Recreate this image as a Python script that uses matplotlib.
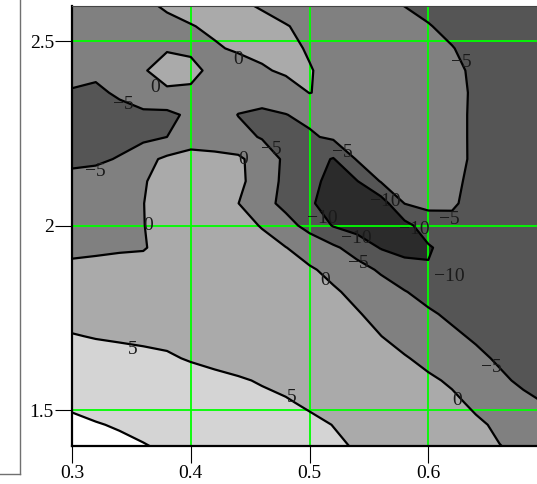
import numpy as np
import matplotlib
matplotlib.use("Agg")
import matplotlib.pyplot as plt
from matplotlib.lines import Line2D

plt.rcParams['font.family'] = ['Liberation Serif', 'DejaVu Serif']
plt.rcParams['contour.negative_linestyle'] = 'solid'

# grid of the surface (x across, y down the rows)
x_vals = [0.30, 0.32, 0.34, 0.36, 0.38, 0.40, 0.42, 0.44, 0.46, 0.48, 0.50,
          0.52, 0.54, 0.56, 0.58, 0.60, 0.62, 0.64, 0.66, 0.68, 0.70]
y_vals = [1.40, 1.46, 1.52, 1.58, 1.64, 1.70, 1.76, 1.82, 1.88, 1.94, 2.00,
          2.06, 2.12, 2.18, 2.24, 2.30, 2.36, 2.42, 2.48, 2.54, 2.60]

z_140 = [12.0, 11.4, 10.8, 10.2, 9.6, 9.0, 8.4, 7.8, 7.2, 6.6, 6.0, 5.45, 4.8, 4.0, 3.2, 2.5, 1.7, 0.9, 0.1, -0.7, -1.5]
z_146 = [11.0, 10.2, 9.7, 9.2, 8.7, 8.3, 7.8, 7.3, 6.7, 6.1, 5.6, 4.95, 4.2, 3.4, 2.7, 2.0, 1.3, 0.6, -0.6, -1.8, -3.0]
z_152 = [9.2, 8.8, 8.4, 7.9, 7.5, 7.1, 6.6, 6.1, 5.6, 5.25, 4.6, 4.0, 3.3, 2.6, 1.9, 1.3, 0.75, -0.7, -2.4, -3.9, -5.2]
z_158 = [7.8, 7.5, 7.1, 6.8, 6.4, 6.0, 5.6, 5.25, 4.8, 4.3, 3.7, 3.1, 2.5, 1.9, 1.2, 0.6, -0.5, -2.3, -4.2, -5.8, -6.5]
z_164 = [6.7, 6.4, 6.0, 5.6, 5.3, 4.8, 4.4, 4.0, 3.5, 2.9, 2.3, 1.7, 1.2, 0.75, 0.3, -1.0, -2.5, -4.0, -5.6, -6.5, -7.2]
z_170 = [5.2, 4.8, 4.6, 4.5, 4.4, 4.3, 4.1, 3.8, 3.3, 2.7, 2.0, 1.3, 0.7, 0.05, -1.4, -2.8, -4.2, -5.6, -6.5, -7.0, -7.5]
z_176 = [3.7, 3.8, 3.9, 3.9, 3.9, 3.9, 3.8, 3.6, 3.2, 2.6, 1.9, 1.1, 0.3, -1.2, -2.9, -4.4, -5.8, -6.8, -7.2, -7.5, -7.8]
z_182 = [2.1, 2.3, 2.6, 2.9, 3.1, 3.3, 3.3, 3.1, 2.7, 2.1, 1.3, 0.5, -1.0, -2.9, -4.8, -6.4, -7.3, -7.6, -7.6, -7.8, -8.1]
z_188 = [0.8, 1.0, 1.3, 1.7, 2.1, 2.6, 2.8, 2.7, 2.2, 1.4, 0.5, -1.1, -3.3, -5.6, -7.5, -9.6, -8.5, -7.6, -7.4, -7.6, -8.0]
z_194 = [-0.8, -0.6, -0.4, -0.3, 1.5, 2.4, 2.6, 2.0, 1.1, 0.1, -2.0, -4.2, -7.0, -10.3, -12.0, -10.5, -8.0, -7.0, -7.0, -7.4, -8.0]
z_200 = [-1.6, -1.2, -0.6, -0.1, 1.5, 2.3, 2.0, 1.1, -0.2, -3.3, -6.6, -10.3, -12.0, -12.0, -11.5, -7.5, -5.6, -6.2, -6.8, -7.4, -8.0]
z_206 = [-2.2, -1.8, -1.2, -0.05, 1.3, 1.8, 1.3, 0.05, -3.3, -6.3, -9.4, -12.0, -12.5, -12.5, -4.9, -3.8, -4.7, -5.8, -6.5, -7.2, -7.9]
z_212 = [-3.0, -2.6, -1.8, -0.2, 1.0, 1.5, 1.4, 1.0, -2.2, -6.2, -8.6, -11.5, -10.2, -4.7, -3.2, -3.2, -4.5, -5.6, -6.4, -7.1, -7.8]
z_218 = [-6.5, -6.0, -4.6, -1.5, 0.9, 1.3, 1.3, 0.9, -2.5, -5.8, -8.0, -10.3, -4.6, -3.0, -2.6, -2.9, -4.1, -5.5, -6.3, -7.0, -7.8]
z_224 = [-7.0, -7.3, -7.0, -6.2, -5.0, -1.7, -2.5, -3.8, -5.3, -6.3, -5.6, -4.2, -3.0, -2.5, -2.6, -3.2, -4.3, -5.4, -6.2, -7.0, -7.8]
z_230 = [-7.0, -7.2, -6.8, -6.0, -6.2, -4.0, -2.8, -5.1, -5.8, -5.1, -4.0, -3.0, -2.6, -2.4, -2.6, -3.3, -4.3, -5.4, -6.2, -7.0, -7.8]
z_236 = [-5.5, -6.0, -4.2, -2.0, -0.6, -0.5, -1.2, -3.0, -3.1, -2.5, 0.1, -1.0, -1.8, -2.6, -3.3, -4.0, -4.6, -5.2, -6.0, -6.8, -7.6]
z_242 = [-3.0, -3.9, -2.5, -0.3, 1.5, 0.79, -0.8, -1.3, -0.6, 0.8, 0.15, -0.8, -1.55, -2.29, -3.04, -3.79, -4.53, -5.37, -6.3, -7.2, -8.2]
z_248 = [-3.0, -2.4, -1.6, -0.8, -0.3, -0.5, -0.3, 0.37, 1.37, 0.66, -0.25, -1.03, -1.80, -2.58, -3.36, -4.13, -4.91, -5.73, -6.6, -7.4, -8.3]
z_254 = [-2.0, -1.63, -1.25, -0.88, -0.51, -0.13, 0.50, 1.29, 0.92, 0.14, -0.69, -1.53, -2.36, -3.20, -4.04, -4.88, -5.56, -6.2, -6.9, -7.5, -8.2]
z_260 = [-2.0, -1.44, -0.89, -0.33, 0.31, 1.08, 1.16, 0.41, -0.37, -1.17, -1.97, -2.78, -3.58, -4.38, -5.12, -5.63, -6.1, -6.6, -7.1, -7.6, -8.1]

z_rows = [z_140, z_146, z_152, z_158, z_164, z_170, z_176, z_182, z_188, z_194, z_200,
          z_206, z_212, z_218, z_224, z_230, z_236, z_242, z_248, z_254, z_260]

fill_levels = [-100, -10, -5, 0, 5, 10, 100]
line_levels = [-10, -5, 0, 5, 10]
fill_colors = ['#2b2b2b', '#555555', '#808080', '#aaaaaa', '#d4d4d4', '#ffffff']

x_ticks = [0.3, 0.4, 0.5, 0.6]
x_ticklabels = ['0.3', '0.4', '0.5', '0.6']
y_ticks = [1.5, 2.0, 2.5]
y_ticklabels = ['1.5', '2', '2.5']

label_text = ['0', '−5', '−5', '0', '−5', '0', '−5', '−5', '0', '−10', '−10',
              '−10', '−10', '−5', '−10', '−5', '0', '−5', '0', '5', '5']
label_x = [0.370, 0.343, 0.320, 0.440, 0.628, 0.444, 0.468, 0.528, 0.364, 0.5635, 0.511,
           0.539, 0.588, 0.618, 0.618, 0.541, 0.513, 0.653, 0.624, 0.351, 0.485]
label_y = [2.373, 2.327, 2.145, 2.449, 2.443, 2.180, 2.205, 2.197, 1.999, 2.064, 2.020,
           1.966, 1.988, 2.015, 1.863, 1.896, 1.852, 1.614, 1.527, 1.663, 1.535]

W, H = 537, 484
fig = plt.figure(figsize=(W / 100, H / 100), dpi=100)
ax = fig.add_axes([72 / W, (H - 445.7) / H, (W - 72) / W, (445.7 - 6) / H])

X, Y = np.meshgrid(np.array(x_vals), np.array(y_vals))
Z = np.array(z_rows)

ax.contourf(X, Y, Z, levels=fill_levels, colors=fill_colors, zorder=1)
for xv in x_ticks:
    ax.axvline(xv, color='#00ff00', lw=1.3, zorder=2)
for yv in y_ticks:
    ax.axhline(yv, color='#00ff00', lw=1.3, zorder=2)
ax.contour(X, Y, Z, levels=line_levels, colors='black', linewidths=1.6,
           linestyles='solid', zorder=3)

for t, lx, ly in zip(label_text, label_x, label_y):
    ax.text(lx, ly, t, fontsize=14, color='#1a1a1a', ha='center', va='center', zorder=4)

ax.set_xlim(0.3, 0.3 + 465 / 1187.7)
ax.set_ylim(2.5 - 404.7 / 369, 2.5 + 35 / 369)
ax.set_xticks(x_ticks)
ax.set_xticklabels(x_ticklabels)
ax.set_yticks(y_ticks)
ax.set_yticklabels(y_ticklabels)
ax.tick_params(axis='both', direction='out', length=12, width=0.8, labelsize=14, color='black')
ax.tick_params(axis='y', pad=1)
ax.tick_params(axis='x', pad=2)

ax.spines['left'].set_linewidth(1.6)
ax.spines['bottom'].set_linewidth(1.6)
ax.spines['top'].set_linewidth(0.8)
ax.spines['top'].set_color('#444444')
ax.spines['right'].set_visible(False)
for s in ax.spines.values():
    s.set_zorder(5)

# partial frame on the far left
fig.add_artist(Line2D([20 / W, 20 / W], [1.0, (H - 474) / H], transform=fig.transFigure,
                      color='#707070', lw=1.0))
fig.add_artist(Line2D([0, 20 / W], [(H - 474) / H, (H - 474) / H], transform=fig.transFigure,
                      color='#707070', lw=1.0))

fig.savefig('out.png', dpi=100)
